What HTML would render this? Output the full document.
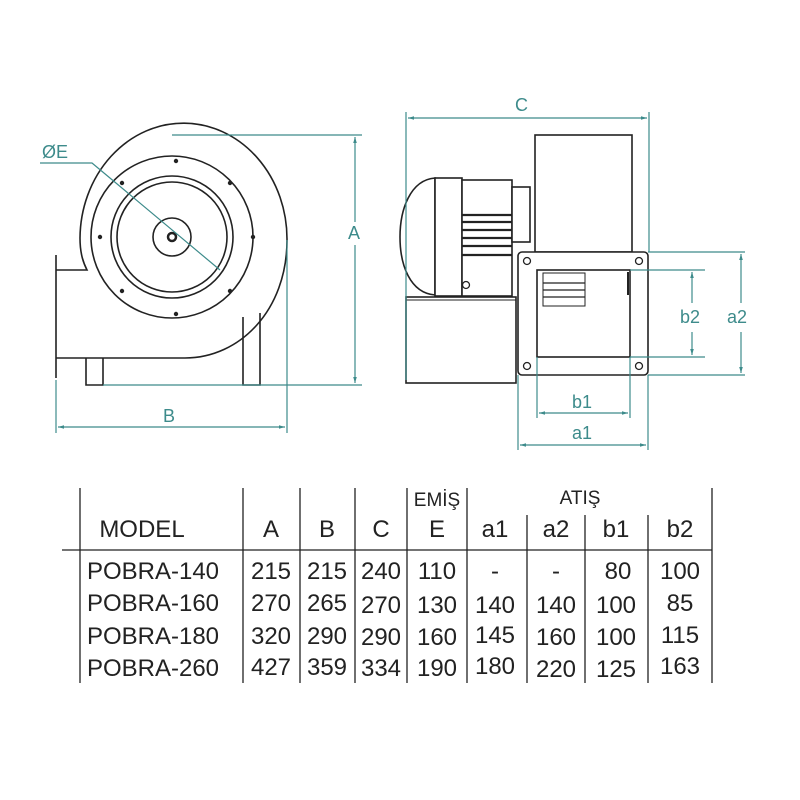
<!DOCTYPE html>
<html><head><meta charset="utf-8"><style>
html,body{margin:0;padding:0;background:#fff;}
svg{display:block;}
text{font-family:"Liberation Sans Narrow","Liberation Sans",sans-serif;}
</style></head><body>
<svg width="800" height="800" viewBox="0 0 800 800" xmlns="http://www.w3.org/2000/svg">
<defs>
<marker id="ar" viewBox="0 0 10 10" refX="10" refY="5" markerWidth="8" markerHeight="5" orient="auto-start-reverse"><path d="M0,2 L10,5 L0,8 Z" fill="#3d8b8b"/></marker>
</defs>
<g fill="none" stroke="#222" stroke-width="1.6">
  <path d="M80,238 A92,103 0 0 1 287,240 C287,310 240,358 185,358 L56,358"/>
  <path d="M80,238 C80,255 84,264 87,270 L56,270"/>
  <line x1="56" y1="255" x2="56" y2="378"/>
  <circle cx="172" cy="237" r="81"/>
  <circle cx="172" cy="237" r="61"/>
  <circle cx="172" cy="237" r="55"/>
  <circle cx="172" cy="237" r="19"/>
  <circle cx="172" cy="237" r="4" stroke-width="2.5"/>
  <path d="M86,358 L86,385 L103,385 L103,358"/>
  <path d="M243,317 L243,385 L260,385 L260,313"/>
</g>
<g fill="#222">
  <circle cx="176" cy="161" r="2.2"/><circle cx="230" cy="183" r="2.2"/><circle cx="253" cy="237" r="2.2"/>
  <circle cx="230" cy="291" r="2.2"/><circle cx="176" cy="314" r="2.2"/><circle cx="122" cy="291" r="2.2"/>
  <circle cx="100" cy="237" r="2.2"/><circle cx="122" cy="183" r="2.2"/>
</g>
<g fill="none" stroke="#3d8b8b" stroke-width="1.2">
  <line x1="172" y1="135" x2="362" y2="135"/>
  <line x1="103" y1="385" x2="362" y2="385"/>
  <line x1="355" y1="222" x2="355" y2="137" marker-end="url(#ar)"/>
  <line x1="355" y1="245" x2="355" y2="383" marker-end="url(#ar)"/>
  <line x1="56" y1="380" x2="56" y2="433"/>
  <line x1="287" y1="240" x2="287" y2="433"/>
  <line x1="58" y1="427" x2="285" y2="427" marker-start="url(#ar)" marker-end="url(#ar)"/>
  <polyline points="40,163 92,163 220,270"/>
</g>
<g fill="#3d8b8b" font-size="18">
  <text x="42" y="158" font-family="Liberation Sans">ØE</text>
  <text x="348" y="239" font-family="Liberation Sans">A</text>
  <text x="163" y="422" font-family="Liberation Sans">B</text>
  <text x="515" y="111" font-family="Liberation Sans">C</text>
  <text x="680" y="323" font-family="Liberation Sans">b2</text>
  <text x="727" y="323" font-family="Liberation Sans">a2</text>
  <text x="572" y="408" font-family="Liberation Sans">b1</text>
  <text x="572" y="439" font-family="Liberation Sans">a1</text>
</g>
<g fill="none" stroke="#222" stroke-width="1.6">
  <rect x="535" y="135" width="97" height="117" fill="#fff"/>
  <rect x="406" y="297" width="110" height="86" fill="#fff"/>
  <line x1="406" y1="300" x2="516" y2="300" stroke-width="1"/>
  <path d="M435,178 C410,180 400,210 400,237 C400,265 410,293 435,295 Z" fill="#fff"/>
  <rect x="435" y="178" width="27" height="118" fill="#fff"/>
  <rect x="462" y="180" width="50" height="116" fill="#fff"/>
  <rect x="512" y="187" width="18" height="55" fill="#fff"/>
  <rect x="518" y="252" width="130" height="123" rx="4" fill="#fff"/>
  <rect x="537" y="270" width="93" height="87" fill="#fff"/>
  <rect x="543" y="273" width="42" height="33" stroke-width="1"/>
</g>
<g stroke="#222" stroke-width="2.2">
  <line x1="462" y1="215" x2="512" y2="215"/><line x1="462" y1="222" x2="512" y2="222"/>
  <line x1="462" y1="230" x2="512" y2="230"/><line x1="462" y1="238" x2="512" y2="238"/>
  <line x1="462" y1="246" x2="512" y2="246"/><line x1="462" y1="255" x2="512" y2="255"/>
  <line x1="543" y1="283" x2="585" y2="283" stroke-width="1.3"/>
  <line x1="543" y1="290" x2="585" y2="290" stroke-width="1.3"/>
  <line x1="543" y1="297" x2="585" y2="297" stroke-width="1.3"/>
  <line x1="628" y1="272" x2="628" y2="295" stroke-width="2"/>
</g>
<g fill="none" stroke="#222" stroke-width="1.3">
  <circle cx="527" cy="261" r="3.5"/><circle cx="639" cy="261" r="3.5"/>
  <circle cx="527" cy="366" r="3.5"/><circle cx="639" cy="366" r="3.5"/>
  <circle cx="466" cy="285" r="3.5"/>
</g>
<g fill="none" stroke="#3d8b8b" stroke-width="1.2">
  <line x1="406" y1="112" x2="406" y2="380"/>
  <line x1="649" y1="112" x2="649" y2="252"/>
  <line x1="408" y1="118" x2="647" y2="118" marker-start="url(#ar)" marker-end="url(#ar)"/>
  <line x1="648" y1="252" x2="745" y2="252"/>
  <line x1="648" y1="375" x2="745" y2="375"/>
  <line x1="630" y1="270" x2="705" y2="270"/>
  <line x1="630" y1="357" x2="705" y2="357"/>
  <line x1="741" y1="303" x2="741" y2="254" marker-end="url(#ar)"/><line x1="741" y1="332" x2="741" y2="373" marker-end="url(#ar)"/>
  <line x1="692" y1="303" x2="692" y2="272" marker-end="url(#ar)"/><line x1="692" y1="332" x2="692" y2="355" marker-end="url(#ar)"/>
  <line x1="518" y1="375" x2="518" y2="450"/>
  <line x1="648" y1="375" x2="648" y2="450"/>
  <line x1="537" y1="357" x2="537" y2="418"/>
  <line x1="630" y1="357" x2="630" y2="418"/>
  <line x1="539" y1="413" x2="628" y2="413" marker-start="url(#ar)" marker-end="url(#ar)"/>
  <line x1="520" y1="445" x2="646" y2="445" marker-start="url(#ar)" marker-end="url(#ar)"/>
</g>
<g stroke="#222" stroke-width="1.3">
  <line x1="62" y1="550" x2="712" y2="550"/>
  <line x1="80" y1="488" x2="80" y2="683"/>
  <line x1="243" y1="488" x2="243" y2="683"/>
  <line x1="300" y1="488" x2="300" y2="683"/>
  <line x1="355" y1="488" x2="355" y2="683"/>
  <line x1="407" y1="488" x2="407" y2="683"/>
  <line x1="467" y1="488" x2="467" y2="683"/>
  <line x1="527" y1="515" x2="527" y2="683"/>
  <line x1="585" y1="515" x2="585" y2="683"/>
  <line x1="648" y1="515" x2="648" y2="683"/>
  <line x1="712" y1="488" x2="712" y2="683"/>
</g>
<g fill="#222" font-size="24" text-anchor="middle">
  <text x="142" y="537">MODEL</text>
  <text x="271" y="537">A</text><text x="327" y="537">B</text><text x="381" y="537">C</text>
  <text x="437" y="537">E</text><text x="437" y="506" font-size="19">EMİŞ</text>
  <text x="580" y="504" font-size="19">ATIŞ</text>
  <text x="495" y="537">a1</text><text x="556" y="537">a2</text><text x="616" y="537">b1</text><text x="680" y="537">b2</text>

  <text x="153" y="579">POBRA-140</text><text x="271" y="579">215</text><text x="327" y="579">215</text><text x="381" y="579">240</text><text x="437" y="579">110</text><text x="495" y="579">-</text><text x="556" y="579">-</text><text x="618" y="579">80</text><text x="680" y="579">100</text>
  <text x="153" y="611">POBRA-160</text><text x="271" y="611">270</text><text x="327" y="611">265</text><text x="381" y="613">270</text><text x="437" y="613">130</text><text x="495" y="613">140</text><text x="556" y="613">140</text><text x="616" y="613">100</text><text x="680" y="611">85</text>
  <text x="153" y="644">POBRA-180</text><text x="271" y="644">320</text><text x="327" y="644">290</text><text x="381" y="645">290</text><text x="437" y="645">160</text><text x="495" y="643">145</text><text x="556" y="645">160</text><text x="616" y="645">100</text><text x="680" y="643">115</text>
  <text x="153" y="676">POBRA-260</text><text x="271" y="675">427</text><text x="327" y="675">359</text><text x="381" y="676">334</text><text x="437" y="676">190</text><text x="495" y="674">180</text><text x="556" y="677">220</text><text x="616" y="677">125</text><text x="680" y="674">163</text>
</g>
</svg>
</body></html>
